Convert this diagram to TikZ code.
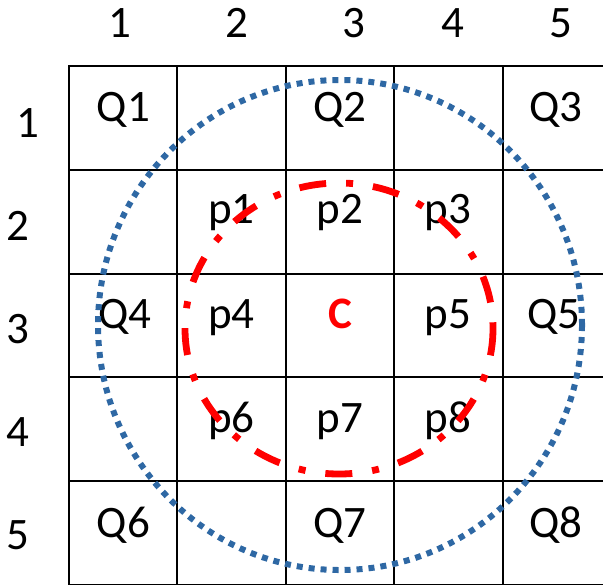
\documentclass[tikz,border=0pt]{standalone}
\usepackage{fontspec}
\setmainfont{Carlito}
\definecolor{ringblue}{RGB}{46,104,164}
\begin{document}
\begin{tikzpicture}[x=0.5pt, y=-0.5pt,
  lbl/.style={anchor=base, inner sep=0pt, font=\fontsize{22.5}{26}\selectfont},
  gridline/.style={line width=1.1pt}]
\useasboundingbox (0,0) rectangle (603,584);
\clip (0,0) rectangle (603,584);
% grid
\draw[gridline] (69,66) rectangle (611,585);
\foreach \x in {177,286,394,503}
  \draw[gridline] (\x,66) -- (\x,585);
\foreach \y in {170,274,377,481}
  \draw[gridline] (69,\y) -- (611,\y);
% column and row numbers
\node[lbl] (h1) at (120,37) {1};
\node[lbl] (h2) at (237,37) {2};
\node[lbl] (h3) at (354,37) {3};
\node[lbl] (h4) at (453,37) {4};
\node[lbl] (h5) at (561,37) {5};
\node[lbl] (r1) at (28,137) {1};
\node[lbl] (r2) at (18,240) {2};
\node[lbl] (r3) at (18,343) {3};
\node[lbl] (r4) at (18,446) {4};
\node[lbl] (r5) at (18,549) {5};
% cells
\node[lbl] (q1) at (123.5,121) {Q1};
\node[lbl] (q2) at (340,121) {Q2};
\node[lbl] (q3) at (556,121) {Q3};
\node[lbl] (p1) at (231.5,223) {p1};
\node[lbl] (p2) at (340,223) {p2};
\node[lbl] (p3) at (448,223) {p3};
\node[lbl] (q4) at (125,328) {Q4};
\node[lbl] (p4) at (231.5,328) {p4};
\node[lbl, text=red, font=\fontsize{22.5}{26}\selectfont\bfseries] (c) at (340.5,328) {C};
\node[lbl] (p5) at (448,328) {p5};
\node[lbl] (q5) at (554,328) {Q5};
\node[lbl] (p6) at (231.5,432) {p6};
\node[lbl] (p7) at (340,432) {p7};
\node[lbl] (p8) at (448,432) {p8};
\node[lbl] (q6) at (123.5,537) {Q6};
\node[lbl] (q7) at (340,537) {Q7};
\node[lbl] (q8) at (556,537) {Q8};
% rings
\draw[ringblue, line width=3pt, dash pattern=on 3pt off 3pt]
  (340,325) ellipse [x radius=242, y radius=245];
\draw[red, line width=3.4pt, dash pattern=on 13.5pt off 10pt on 3.5pt off 10pt]
  (339,328.5) ellipse [x radius=154, y radius=145.5];
\end{tikzpicture}
\end{document}
